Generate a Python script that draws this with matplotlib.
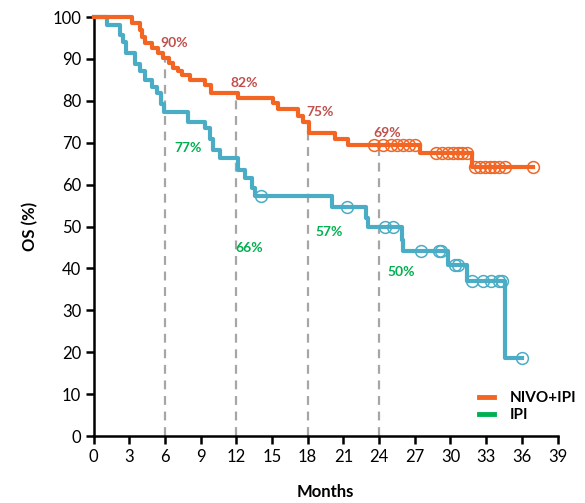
import matplotlib.pyplot as plt
import numpy as np
from matplotlib.lines import Line2D

plt.rcParams['font.family'] = ['Lato', 'DejaVu Sans']

# Kaplan-Meier step data (months, % surviving)
nivo_t = [0, 3.2, 3.9, 4.1, 4.3, 4.9, 5.4, 5.85, 6.3, 6.7, 7.1, 7.4, 8.1, 9.35, 9.9,
          12.1, 15.1, 15.5, 17.2, 17.6, 18.1, 20.3, 21.4, 27.4, 31.8, 36.9]
nivo_s = [100, 98.5, 96.9, 95.3, 93.9, 92.5, 91.3, 90.1, 89.0, 87.8, 87.0, 86.2, 85.0, 83.8, 81.9,
          80.6, 79.4, 78.0, 76.4, 75.0, 72.2, 70.8, 69.5, 67.5, 64.3, 64.3]
nivo_cens = [23.6, 24.3, 25.0, 25.5, 26.0, 26.5, 27.0, 28.8, 29.3, 29.8, 30.2, 30.6, 31.0, 31.4,
             32.1, 32.5, 32.9, 33.3, 33.7, 34.1, 34.6, 36.9]

ipi_t = [0, 1.1, 2.2, 2.5, 2.7, 3.5, 3.9, 4.3, 4.9, 5.3, 5.7, 5.9, 7.95, 9.35, 9.77, 10.0, 10.6,
         12.1, 12.7, 13.3, 13.55, 20.0, 22.9, 23.1, 25.9, 26.0, 29.8, 31.4, 34.6, 36.0]
ipi_s = [100, 98.2, 95.7, 94.1, 91.3, 88.9, 87.0, 85.0, 83.4, 81.8, 79.3, 77.4, 74.9, 73.4, 71.0, 68.3, 66.3,
         63.5, 61.5, 59.1, 57.3, 54.7, 52.0, 49.8, 46.8, 44.2, 40.8, 37.0, 18.5, 18.5]
ipi_cens = [14.1, 21.3, 24.5, 25.2, 27.5, 29.0, 29.2, 30.4, 30.6, 31.8, 32.7, 33.4, 34.1, 34.3, 36.0]

landmarks = [6, 12, 18, 24]
nivo_labels = ['90%', '82%', '75%', '69%']
nivo_label_pos = [(6.8, 93.8), (12.7, 84.2), (19.0, 77.3), (24.7, 72.3)]
ipi_labels = ['77%', '66%', '57%', '50%']
ipi_label_pos = [(7.95, 68.7), (13.1, 44.9), (19.8, 48.8), (25.9, 39.2)]

orange = '#f26522'
teal = '#4bacc6'
green = '#00b050'
red = '#c0504d'


def surv_at(t, s, x):
    idx = np.searchsorted(t, x, side='right') - 1
    return np.array(s)[idx]


fig = plt.figure(figsize=(5.85, 5.03), dpi=100)
ax = fig.add_axes([0.160, 0.1332, 0.793, 0.833])

# dashed landmark lines up to the NIVO+IPI curve
for m in landmarks:
    ax.plot([m, m], [0, surv_at(nivo_t, nivo_s, m)], color='#a6a6a6', lw=1.6,
            ls=(0, (4, 3)), zorder=1)

ax.step(ipi_t, ipi_s, where='post', color=teal, lw=3, clip_on=False, zorder=3)
ax.step(nivo_t, nivo_s, where='post', color=orange, lw=3, clip_on=False, zorder=4)

ax.plot(ipi_cens, surv_at(ipi_t, ipi_s, ipi_cens), 'o', mfc='none', mec=teal,
        ms=8.5, mew=1.1, zorder=5, clip_on=False)
ax.plot(nivo_cens, surv_at(nivo_t, nivo_s, nivo_cens), 'o', mfc='none', mec=orange,
        ms=8.5, mew=1.1, zorder=6, clip_on=False)

for lab, (x, y) in zip(nivo_labels, nivo_label_pos):
    ax.text(x, y, lab, color=red, fontsize=10, fontweight='bold', ha='center', va='center')
for lab, (x, y) in zip(ipi_labels, ipi_label_pos):
    ax.text(x, y, lab, color=green, fontsize=10, fontweight='bold', ha='center', va='center')

ax.set_xlim(0, 39)
ax.set_ylim(0, 100)
ax.set_xticks(np.arange(0, 40, 3))
ax.set_yticks(np.arange(0, 101, 10))
ax.tick_params(direction='out', length=6, width=1.8, labelsize=12, pad=3)
for sp in ['top', 'right']:
    ax.spines[sp].set_visible(False)
for sp in ['left', 'bottom']:
    ax.spines[sp].set_linewidth(1.8)

ax.set_xlabel('Months', fontsize=12, fontweight='bold', labelpad=14)
ax.set_ylabel('OS (%)', fontsize=12, fontweight='bold', labelpad=10)

handles = [Line2D([], [], color=orange, lw=3.5), Line2D([], [], color=green, lw=3.5)]
leg = ax.legend(handles, ['NIVO+IPI', 'IPI'], loc='lower right', bbox_to_anchor=(1.07, 0.0),
                frameon=False, handlelength=1.0, handletextpad=1.0, labelspacing=0.2,
                prop={'weight': 'bold', 'size': 11})

fig.savefig('out.png', dpi=100)
